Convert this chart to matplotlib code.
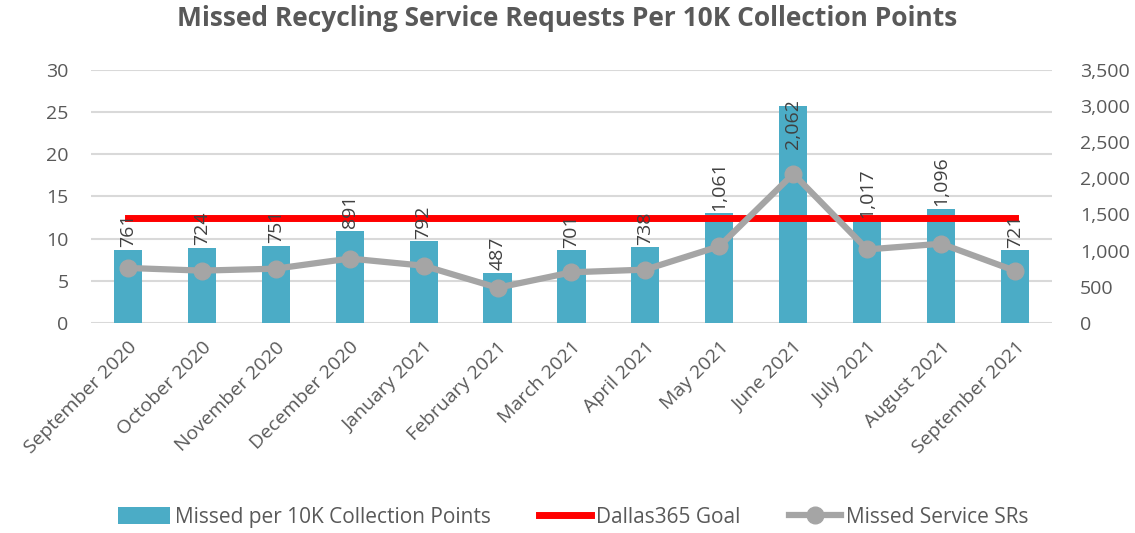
import matplotlib.pyplot as plt
from matplotlib.ticker import FuncFormatter

plt.rcParams['font.family'] = ['Open Sans', 'DejaVu Sans']

# data
months = ['September 2020', 'October 2020', 'November 2020', 'December 2020',
          'January 2021', 'February 2021', 'March 2021', 'April 2021',
          'May 2021', 'June 2021', 'July 2021', 'August 2021', 'September 2021']
missed_per_10k = [8.66, 8.9, 9.17, 10.9, 9.69, 5.93, 8.62, 9.0, 13.0, 25.66, 12.2, 13.56, 8.62]
goal = [12.5] * 13
missed_srs = [761, 724, 751, 891, 792, 487, 701, 738, 1061, 2062, 1017, 1096, 721]

txt = '#595959'
x = list(range(len(months)))

fig = plt.figure(figsize=(11.35, 5.33), dpi=100)
ax = fig.add_axes([0.080, 0.394, 0.847, 0.475])
ax2 = ax.twinx()

bars = ax.bar(x, missed_per_10k, width=0.38, color='#4BACC6', zorder=2,
              label='Missed per 10K Collection Points')
goal_line, = ax.plot(x, goal, color='#FF0000', lw=5, zorder=3, label='Dallas365 Goal')
sr_line, = ax2.plot(x, missed_srs, color='#A5A5A5', lw=4.5, marker='o', ms=12,
                    zorder=4, label='Missed Service SRs')

# data labels (Excel keeps them inside the plot area)
for i, (v, s) in enumerate(zip(missed_per_10k, missed_srs)):
    ax.text(i, min(v + 0.3, 20.6), f'{s:,}', rotation=90, ha='center', va='bottom',
            fontsize=14, color='#404040', zorder=5)

ax.set_ylim(0, 30)
ax.set_yticks(range(0, 31, 5))
ax2.set_ylim(0, 3500)
ax2.set_yticks(range(0, 3501, 500))
ax2.yaxis.set_major_formatter(FuncFormatter(lambda v, p: f'{int(v):,}'))
ax.set_xlim(-0.5, len(months) - 0.5)

ax.grid(axis='y', color='#D9D9D9', lw=1.5, zorder=0)
ax.set_axisbelow(True)
for a in (ax, ax2):
    for sp in a.spines.values():
        sp.set_visible(False)
    a.tick_params(length=0, labelsize=14, colors=txt)

ax.set_xticks(x)
ax.set_xticklabels(months, rotation=45, ha='right', rotation_mode='anchor', fontsize=14)
ax.tick_params(axis='x', pad=11)
ax.tick_params(axis='y', pad=16)
ax2.tick_params(axis='y', pad=20)

fig.text(0.5, 0.965, 'Missed Recycling Service Requests Per 10K Collection Points',
         ha='center', va='center', fontsize=19, fontweight='bold', color=txt)

fig.legend([bars, goal_line, sr_line],
           ['Missed per 10K Collection Points', 'Dallas365 Goal', 'Missed Service SRs'],
           loc='center', bbox_to_anchor=(0.505, 0.03), ncol=3,
           frameon=False, fontsize=15, labelcolor=txt, handlelength=2.5,
           handleheight=0.85, columnspacing=2.3, handletextpad=0.25)

plt.savefig('out.png', dpi=100)
plt.close()
